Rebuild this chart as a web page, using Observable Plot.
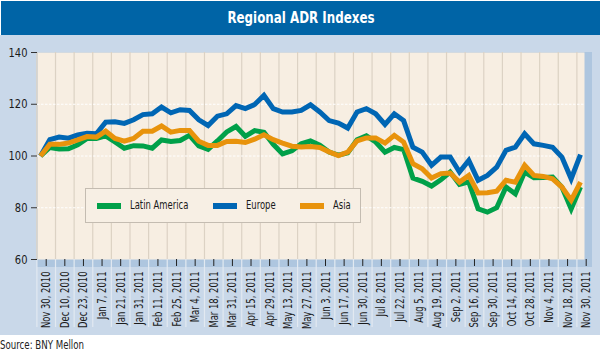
<!DOCTYPE html>
<html>
<head>
<meta charset="utf-8">
<script src="https://cdn.jsdelivr.net/npm/d3@7"></script>
<script src="https://cdn.jsdelivr.net/npm/@observablehq/plot@0.6"></script>
<style>
  html, body { margin: 0; padding: 0; background: #ffffff; }
  #wrap { position: relative; width: 600px; height: 355px; overflow: hidden;
          font-family: "DejaVu Sans Condensed", "Liberation Sans Narrow", sans-serif; }
  #title { position: absolute; left: 1px; top: 1px; width: 599px; height: 34px; background: #0064a6;
           color: #fff; font-weight: bold; font-size: 16.5px; text-align: center; line-height: 34px; }
  #title span { display: inline-block; transform: scaleX(0.8); }
  #bg { position: absolute; left: 0; top: 35px; width: 600px; height: 300px; background: #c9d8e9; }
  #shadow { position: absolute; left: 37px; top: 52px; width: 555px; height: 215px; background: #aec6df; }
  #chart { position: absolute; left: 0; top: 35px; }
  #legend { position: absolute; left: 85px; top: 188px; width: 276px; height: 35px;
            background: #f7efe4; border: 1.5px solid #c4bcb1; box-sizing: border-box;
            font-size: 12.5px; color: #1a1a1a; }
  .sw { position: absolute; top: 14px; width: 24px; height: 6px; }
  .lt { position: absolute; top: 8px; line-height: 16px; white-space: nowrap; transform: scaleX(0.75); transform-origin: left center; }
  #source { position: absolute; left: 0; top: 338px; font-size: 12px; color: #222; white-space: nowrap;
            transform: scaleX(0.8); transform-origin: left center; }
</style>
</head>
<body>
<div id="wrap">
  <div id="title"><span>Regional ADR Indexes</span></div>
  <div id="bg"></div>
  <div id="shadow"></div>
  <div id="chart"></div>
  <div id="legend"></div>
  <div id="source">Source: BNY Mellon</div>
</div>
<script>
const tickLabels = ["Nov 30, 2010","Dec 10, 2010","Dec 23, 2010","Jan 7, 2011","Jan 21, 2011","Jan 31, 2011",
  "Feb 11, 2011","Feb 25, 2011","Mar 4, 2011","Mar 18, 2011","Mar 31, 2011","Apr 15, 2011","Apr 29, 2011",
  "May 13, 2011","May 27, 2011","Jun 3, 2011","Jun 17, 2011","Jun 30, 2011","Jul 8, 2011","Jul 22, 2011",
  "Aug 5, 2011","Aug 19, 2011","Sep 2, 2011","Sep 16, 2011","Sep 30, 2011","Oct 14, 2011","Oct 28, 2011",
  "Nov 4, 2011","Nov 18, 2011","Nov 30, 2011"];

const seriesNames = ["Latin America", "Europe", "Asia"];
const seriesColors = ["#00a049", "#0066b4", "#e8930c"];

const latinAmerica = [100,103.3,102.7,102.8,104.3,106.8,106.8,107.8,105.4,103,104,103.9,103,106.2,105.6,106,108,
  103.9,102.6,105.8,109.3,111.4,107.6,109.8,109.2,104.5,100.8,102,104.7,105.8,104.2,101.5,100.3,101.2,106.3,107.8,
  105.4,101.5,103.3,102.5,91.5,90.2,88.4,90.8,93.8,89,90,79.6,78.3,80,88,85.4,93.8,91.6,91.7,91.9,88,79.6,88];

const europe = [100,106.3,107.3,106.9,108.1,108.8,108.6,113.1,113.2,112.6,114,116,116.3,118.9,116.7,117.9,117.6,
  114,111.8,115.4,116.3,119.5,118.3,119.9,123.4,118.3,117,117,117.6,119.8,117,113.7,112.7,110.8,117,118.3,116.3,
  112.2,116.3,113.7,103.4,101.5,96.4,99.6,99.6,93.8,98.3,90.6,92.5,95.7,102.2,103.4,108.6,104.7,104.1,103.4,99.6,91.2,100.5];

const asia = [100,104.5,104.5,105,106.2,107.5,107.3,109.6,106.8,105.7,106.8,109.6,109.6,111.6,109.2,109.9,109.9,
  105.7,104.1,104.1,105.6,105.7,105.2,106.5,108.2,106.3,105,103.8,103.5,103.7,103.3,101.6,100.2,101.5,105.8,107,
  107,105,108,105.4,97,95.1,91.5,93.2,93.4,89.9,92.5,85.7,85.8,86.4,90.6,89.9,96.4,92.5,92.1,91.2,88,82.9,89.9];

const yTicks = [60, 80, 100, 120, 140];
const yGrid = [80, 100, 120];

const seriesValues = [latinAmerica, europe, asia];
const data = seriesNames.flatMap((name, s) => seriesValues[s].map((v, k) => ({series: name, k, v})));
const tickPos = tickLabels.map((_, i) => 2 * i);
const gridPos = tickLabels.map((_, i) => 2 * i - 1);
const lastIndex = latinAmerica.length - 1;
const shift = 5.7;

const chart = Plot.plot({
  width: 600,
  height: 300,
  marginLeft: 37,
  marginRight: 16,
  marginTop: 17,
  marginBottom: 76,
  style: {background: "transparent", fontFamily: "'DejaVu Sans Condensed', sans-serif"},
  x: {domain: [0, lastIndex], range: [40, 580], label: null},
  y: {domain: [60, 140], label: null},
  color: {domain: seriesNames, range: seriesColors},
  marks: [
    Plot.frame({fill: "#f7eee2", stroke: null}),
    Plot.ruleX(gridPos, {x: d => d, stroke: "#dcd2c4", strokeWidth: 1.2, dx: shift}),
    Plot.axisX(gridPos, {tickSize: 68, tickFormat: null, label: null, stroke: "#e2e9f1", strokeWidth: 1.2, dx: shift, strokeOpacity: 1, text: null}),
    Plot.ruleY(yGrid, {stroke: "#ffffff", strokeWidth: 1, strokeDasharray: "2.5,1.5"}),
    Plot.axisY(yTicks, {tickSize: 6, tickPadding: 4, fontSize: 13, label: null, stroke: "#333", strokeOpacity: 1, fill: "#1a1a1a"}),
    Plot.axisX(tickPos, {tickFormat: v => tickLabels[v / 2], tickRotate: -90, tickSize: 7, tickPadding: 5,
      fontSize: 12.5, label: null, dx: shift, stroke: "#222", strokeOpacity: 1, fill: "#1a1a1a"}),
    Plot.line(data, {x: "k", y: "v", z: "series", stroke: "series", strokeWidth: 5,
      strokeLinejoin: "miter", strokeMiterlimit: 3, strokeLinecap: "butt"})
  ]
});
document.getElementById("chart").appendChild(chart);

// condense axis label glyphs along their reading direction
function condense(selector, s) {
  chart.querySelectorAll(selector).forEach(t => {
    let tr = t.getAttribute("transform");
    if (!tr) {
      const x = t.getAttribute("x") || 0, y = t.getAttribute("y") || 0;
      t.removeAttribute("x"); t.removeAttribute("y");
      tr = `translate(${x},${y})`;
    }
    t.setAttribute("transform", tr + ` scale(${s},1)`);
  });
}
condense('g[aria-label="x-axis tick label"] text', 0.75);
condense('g[aria-label="y-axis tick label"] text', 0.85);

const legend = document.getElementById("legend");
const swLeft = [11, 127, 214];
seriesNames.forEach((name, i) => {
  const sw = document.createElement("div");
  sw.className = "sw";
  sw.style.left = swLeft[i] + "px";
  sw.style.background = seriesColors[i];
  const t = document.createElement("div");
  t.className = "lt";
  t.style.left = (swLeft[i] + 33) + "px";
  t.textContent = name;
  legend.appendChild(sw);
  legend.appendChild(t);
});
</script>
</body>
</html>
